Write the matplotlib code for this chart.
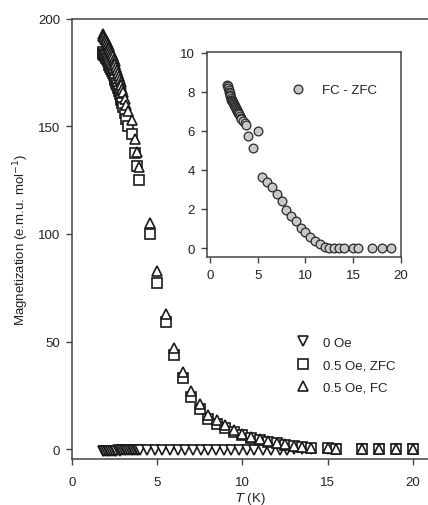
import matplotlib
matplotlib.use("Agg")
import matplotlib.pyplot as plt

plt.rcParams['font.family'] = ['Liberation Sans', 'DejaVu Sans']

# ---- data ----
# 0.5 Oe, ZFC / FC : same temperatures
T_h = [1.8, 1.85, 1.9, 1.95, 2.0, 2.05, 2.1, 2.15, 2.2, 2.25, 2.3, 2.35, 2.4, 2.45,
       2.5, 2.55, 2.6, 2.65, 2.7, 2.75, 2.8, 2.85, 2.9, 2.95, 3.0,
       3.1, 3.2, 3.3, 3.5, 3.7, 3.8, 3.95, 4.55, 5.0, 5.5, 6.0, 6.5, 7.0, 7.5,
       8.0, 8.5, 9.0, 9.5, 10.0, 10.5, 11.0, 11.5, 12.0, 12.5, 13.0, 13.5, 14.0,
       15.0, 15.5, 17.0, 18.0, 19.0, 20.0]
M_fc = [193, 192.3, 191.6, 190.9, 190.1, 189.3, 188.5, 187.6, 186.7, 185.7, 184.7, 183.7, 182.6, 181.5,
        180.3, 179.1, 177.8, 176.5, 175.1, 173.7, 172.2, 170.7, 169.2, 167.6, 166.0,
        163, 160, 157, 153, 144, 138, 131, 105, 83, 63, 47, 36, 27, 21,
        16, 13.5, 11, 9, 7.2, 5.8, 4.6, 3.6, 2.7, 2.1, 1.5, 1.0, 0.7,
        0.3, 0.2, 0.1, 0.05, 0.0, 0.0]
M_zfc = [184.5, 183.9, 183.3, 182.6, 181.9, 181.2, 180.4, 179.6, 178.7, 177.8, 176.9, 175.9, 174.9, 173.8,
         172.7, 171.6, 170.4, 169.2, 167.9, 166.6, 165.2, 163.8, 162.3, 160.7, 159.1,
         156.3, 153.3, 150.4, 146.5, 137.6, 131.7, 125.2, 99.9, 77, 59.3, 43.6, 32.9, 24.2, 18.6,
         14, 11.8, 9.6, 8, 6.5, 5.2, 4.2, 3.4, 2.6, 2.0, 1.5, 1.0, 0.7,
         0.3, 0.2, 0.1, 0.05, 0.0, 0.0]

# 0 Oe
T_0 = [1.8, 1.9, 2.0, 2.1, 2.2, 2.3, 2.4, 2.5, 2.6, 2.7, 2.8, 2.9, 3.0, 3.1, 3.2,
       3.3, 3.4, 3.5, 3.6, 3.7, 3.8, 3.9, 4.0, 4.4, 4.85, 5.3, 5.75, 6.2, 6.65,
       7.1, 7.55, 8.0, 8.45, 8.9, 9.35, 9.8, 10.25, 10.7, 11.2, 11.7, 12.2, 12.6,
       13.0, 13.5, 14.0, 15.0, 15.5, 17.0, 18.0, 19.0, 20.0]
M_0 = [-0.8, -0.8, -0.8, -0.7, -0.8, -0.7, -0.7, -0.8, -0.7, -0.6, -0.7, -0.6, -0.6, -0.6, -0.5,
       -0.6, -0.5, -0.5, -0.5, -0.4, -0.5, -0.4, -0.4, -0.5, -0.5, -0.5, -0.5, -0.5, -0.5,
       -0.5, -0.5, -0.5, -0.5, -0.5, -0.5, -0.5, -0.5, -0.5, -0.4, -0.4, -0.3, -0.3,
       -0.2, -0.1, 0.0, 0.0, 0.0, 0.0, 0.0, 0.0, 0.0]

# inset: FC - ZFC
T_d = [1.8, 1.85, 1.9, 1.95, 2.0, 2.05, 2.1, 2.15, 2.2, 2.25, 2.3, 2.35, 2.4, 2.45,
       2.5, 2.55, 2.6, 2.65, 2.7, 2.75, 2.8, 2.85, 2.9, 2.95, 3.0,
       3.1, 3.2, 3.3, 3.5, 3.7, 3.8, 3.95, 4.5, 5.0, 5.5, 6.0, 6.5, 7.0, 7.5,
       8.0, 8.5, 9.0, 9.5, 10.0, 10.5, 11.0, 11.5, 12.0, 12.5, 13.0, 13.5, 14.0,
       15.0, 15.5, 17.0, 18.0, 19.0]
D = [8.35, 8.3, 8.2, 8.1, 8.0, 7.95, 7.85, 7.8, 7.7, 7.6, 7.55, 7.5, 7.45, 7.4,
     7.35, 7.3, 7.25, 7.2, 7.15, 7.1, 7.05, 7.0, 6.95, 6.9, 6.85,
     6.75, 6.65, 6.6, 6.5, 6.4, 6.3, 5.75, 5.1, 6.0, 3.65, 3.4, 3.1, 2.75, 2.4,
     1.95, 1.65, 1.4, 1.05, 0.8, 0.55, 0.35, 0.2, 0.05, 0.0, 0.0, 0.0, 0.0,
     0.0, 0.0, 0.0, 0.0, 0.0]

axcol = '#444444'
txtcol = '#222222'
edge = '#1a1a1a'
fs = 9.5

fig = plt.figure(figsize=(4.28, 5.06), dpi=100)
ax = fig.add_axes([0.168, 0.0909, 0.832, 0.8696])

ax.plot(T_0, M_0, linestyle='none', marker='v', ms=7.5, mfc='white', mec=edge,
        mew=1.2, label='0 Oe')
ax.plot(T_h, M_zfc, linestyle='none', marker='s', ms=6.8, mfc='white', mec=edge,
        mew=1.2, label='0.5 Oe, ZFC')
ax.plot(T_h, M_fc, linestyle='none', marker='^', ms=7.5, mfc='white', mec=edge,
        mew=1.2, label='0.5 Oe, FC')

ax.set_xlim(0, 20.88)
ax.set_ylim(-4.65, 200)
ax.set_xticks([0, 5, 10, 15, 20])
ax.set_yticks([0, 50, 100, 150, 200])
ax.spines['right'].set_visible(False)
for s in ['left', 'bottom', 'top']:
    ax.spines[s].set_color(axcol)
    ax.spines[s].set_linewidth(1.1)
ax.tick_params(direction='out', length=4.5, width=1.0, color=axcol, labelsize=fs,
               labelcolor=txtcol)
ax.tick_params(axis='y', pad=4)
ax.tick_params(axis='x', pad=8)
ax.set_xlabel('$\\it{T}$ (K)', fontsize=fs, color=txtcol, labelpad=1)
ax.set_ylabel('Magnetization (e.m.u. mol$^{-1}$)', fontsize=fs, color=txtcol, labelpad=5)

leg = ax.legend(loc='upper left', bbox_to_anchor=(0.615, 0.29), frameon=False,
                fontsize=fs, handletextpad=1.0, labelspacing=0.78, handlelength=1.0,
                borderaxespad=0)
for t in leg.get_texts():
    t.set_color(txtcol)

# inset
axi = fig.add_axes([0.4836, 0.4901, 0.4533, 0.4051])
axi.plot(T_d, D, linestyle='none', marker='o', ms=6.3, mfc='#c8c8c8', mec='#2a2a2a',
         mew=0.9, label='FC - ZFC')
axi.set_xlim(-0.31, 20)
axi.set_ylim(-0.46, 10.03)
axi.set_xticks([0, 5, 10, 15, 20])
axi.set_yticks([0, 2, 4, 6, 8, 10])
for s in axi.spines.values():
    s.set_color(axcol)
    s.set_linewidth(1.1)
axi.tick_params(direction='out', length=4.5, width=1.0, color=axcol, labelsize=fs,
                labelcolor=txtcol, pad=4)
legi = axi.legend(loc='upper left', bbox_to_anchor=(0.41, 0.87), frameon=False,
                  fontsize=fs, handletextpad=1.3, handlelength=1.0, borderaxespad=0)
for t in legi.get_texts():
    t.set_color(txtcol)

fig.savefig('out.png', dpi=100)
